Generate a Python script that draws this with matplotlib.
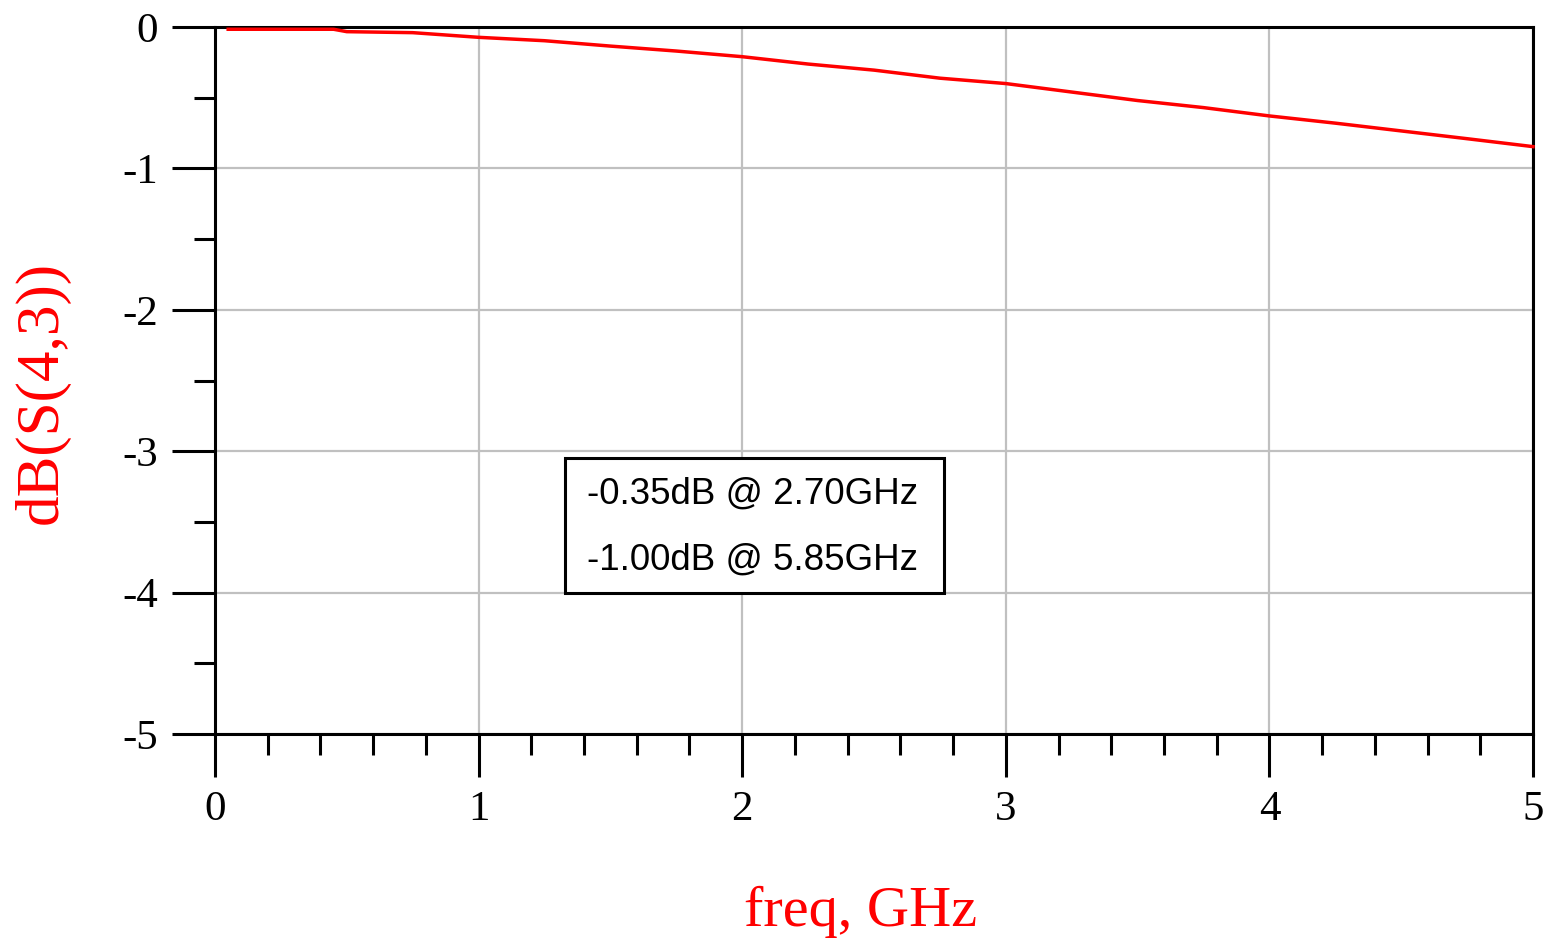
import matplotlib
matplotlib.use("Agg")
import matplotlib.pyplot as plt
from matplotlib.ticker import MultipleLocator

# ---- data ----
freq_ghz = [0.05, 0.25, 0.45, 0.50, 0.75, 1.00, 1.25, 1.50, 1.75, 2.00, 2.25,
            2.50, 2.75, 3.00, 3.25, 3.50, 3.75, 4.00, 4.25, 4.50, 4.75, 5.00]
s43_db = [-0.016, -0.016, -0.016, -0.033, -0.040, -0.073, -0.097, -0.135, -0.170,
          -0.210, -0.262, -0.305, -0.362, -0.400, -0.460, -0.520, -0.570, -0.629,
          -0.680, -0.735, -0.790, -0.846]
x_ticks = [0, 1, 2, 3, 4, 5]
y_ticks = [0, -1, -2, -3, -4, -5]
marker_lines = ["-0.35dB @ 2.70GHz", "-1.00dB @ 5.85GHz"]

fig = plt.figure(figsize=(15.43, 9.44), dpi=100)
ax = fig.add_axes([215/1543, 1-734/944, (1533-215)/1543, (734-27)/944])

ax.plot(freq_ghz, s43_db, color="red", lw=2.5, zorder=3, clip_on=False)

ax.set_xlim(0, 5)
ax.set_ylim(-5, 0)
ax.set_xticks(x_ticks)
ax.set_yticks(y_ticks)
ax.xaxis.set_minor_locator(MultipleLocator(0.2))
ax.yaxis.set_minor_locator(MultipleLocator(0.5))

serif = ["Liberation Serif", "DejaVu Serif"]
ax.set_xticklabels([str(v) for v in x_ticks], family=serif, fontsize=31)
ax.set_yticklabels([str(v) for v in y_ticks], family=serif, fontsize=31)

ax.tick_params(axis="both", which="major", direction="out", length=31,
               width=2.2, color="black", pad=10)
ax.tick_params(axis="both", which="minor", direction="out", length=15,
               width=2.2, color="black")

ax.grid(True, which="major", color="#c0c0c0", lw=1.6, zorder=0)
ax.set_axisbelow(True)
for s in ax.spines.values():
    s.set_linewidth(2.2)
    s.set_color("black")

# axis titles
fig.text(42/1543, 1-392/944, "dB(S(4,3))", rotation=90, color="red",
         family=serif, fontsize=44, ha="center", va="center")
fig.text(861/1543, 1-912/944, "freq, GHz", color="red",
         family=serif, fontsize=42, ha="center", va="center")

# marker readout box
box_x0, box_x1 = 565, 944
box_y0, box_y1 = 458, 593
fig.patches.append(plt.Rectangle((box_x0/1543, 1-box_y1/944),
                                 (box_x1-box_x0)/1543, (box_y1-box_y0)/944,
                                 transform=fig.transFigure, fill=True,
                                 facecolor="white", edgecolor="black", lw=2.2,
                                 zorder=5))
sans = ["Liberation Sans", "DejaVu Sans"]
for i, txt in enumerate(marker_lines):
    fig.text(587/1543, 1-(494 + 66*i)/944, txt, color="black", family=sans,
             fontsize=26.5, ha="left", va="center", zorder=6)

fig.savefig("out.png", dpi=100)
